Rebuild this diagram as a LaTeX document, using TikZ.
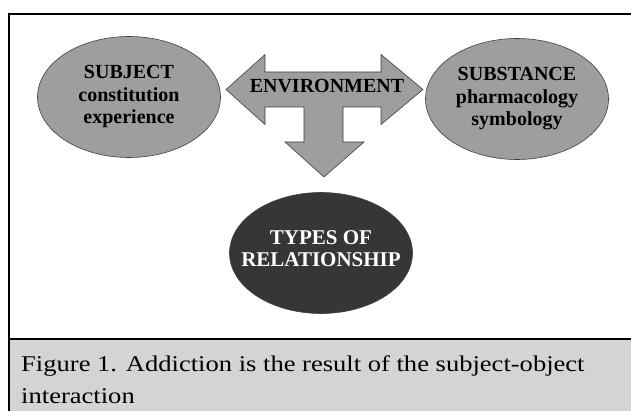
\documentclass[tikz,border=0pt]{standalone}
\usepackage{fontspec}
\setmainfont{Liberation Serif}
\usetikzlibrary{shapes.geometric}

\begin{document}
\begin{tikzpicture}
  [x=1pt,y=1pt,
   main node/.style={ellipse,draw=black!75,line width=0.6pt,fill=black!38,minimum width=183pt,minimum height=121pt,inner sep=0pt,align=center,font=\bfseries\fontsize{20}{22.5}\selectfont},
   dark node/.style={main node,fill=black!79,text=white,inner xsep=-20pt,text depth=8pt,font=\bfseries\fontsize{21}{22}\selectfont},
   caption/.style={anchor=base west,inner sep=0pt,font=\fontsize{22.5}{32}\selectfont,xscale=1.18,transform shape}]
  \clip (0,0) rectangle (631,410);
  % frame and caption band
  \draw[line width=1.1pt] (9,71) rectangle (640,396);
  \filldraw[fill=black!17,line width=1.1pt] (9,-5) rectangle (640,71);

  \node[main node] 	(Subject)   at (129,313) {SUBJECT\\constitution\\experience};
  \node[main node] 	(Substance) at (517,311) {SUBSTANCE\\pharmacology\\symbology};
  \node[dark node] 	(Relationship) at (321,157) {TYPES OF\\RELATIONSHIP};

  % T-shaped block arrow
  \filldraw[fill=black!38,draw=black!75,line width=0.6pt]
    (226,320.5) -- (265,355.5) -- (265,338) -- (381,338) -- (381,355.5) -- (423,320.5)
    -- (381,285.5) -- (381,303) -- (343,303) -- (343,268) -- (364,268) -- (324,233)
    -- (285,268) -- (304,268) -- (304,303) -- (265,303) -- (265,285.5) -- cycle;
  \node[anchor=base,inner sep=0pt,font=\bfseries\fontsize{20}{22.5}\selectfont] (Environment) at (327,317) {ENVIRONMENT};

  \node[caption] (CaptionA) at (21,39) {Figure 1. Addiction is the result of the subject-object};
  \node[caption] (CaptionB) at (21,7) {interaction};
\end{tikzpicture}
\end{document}
